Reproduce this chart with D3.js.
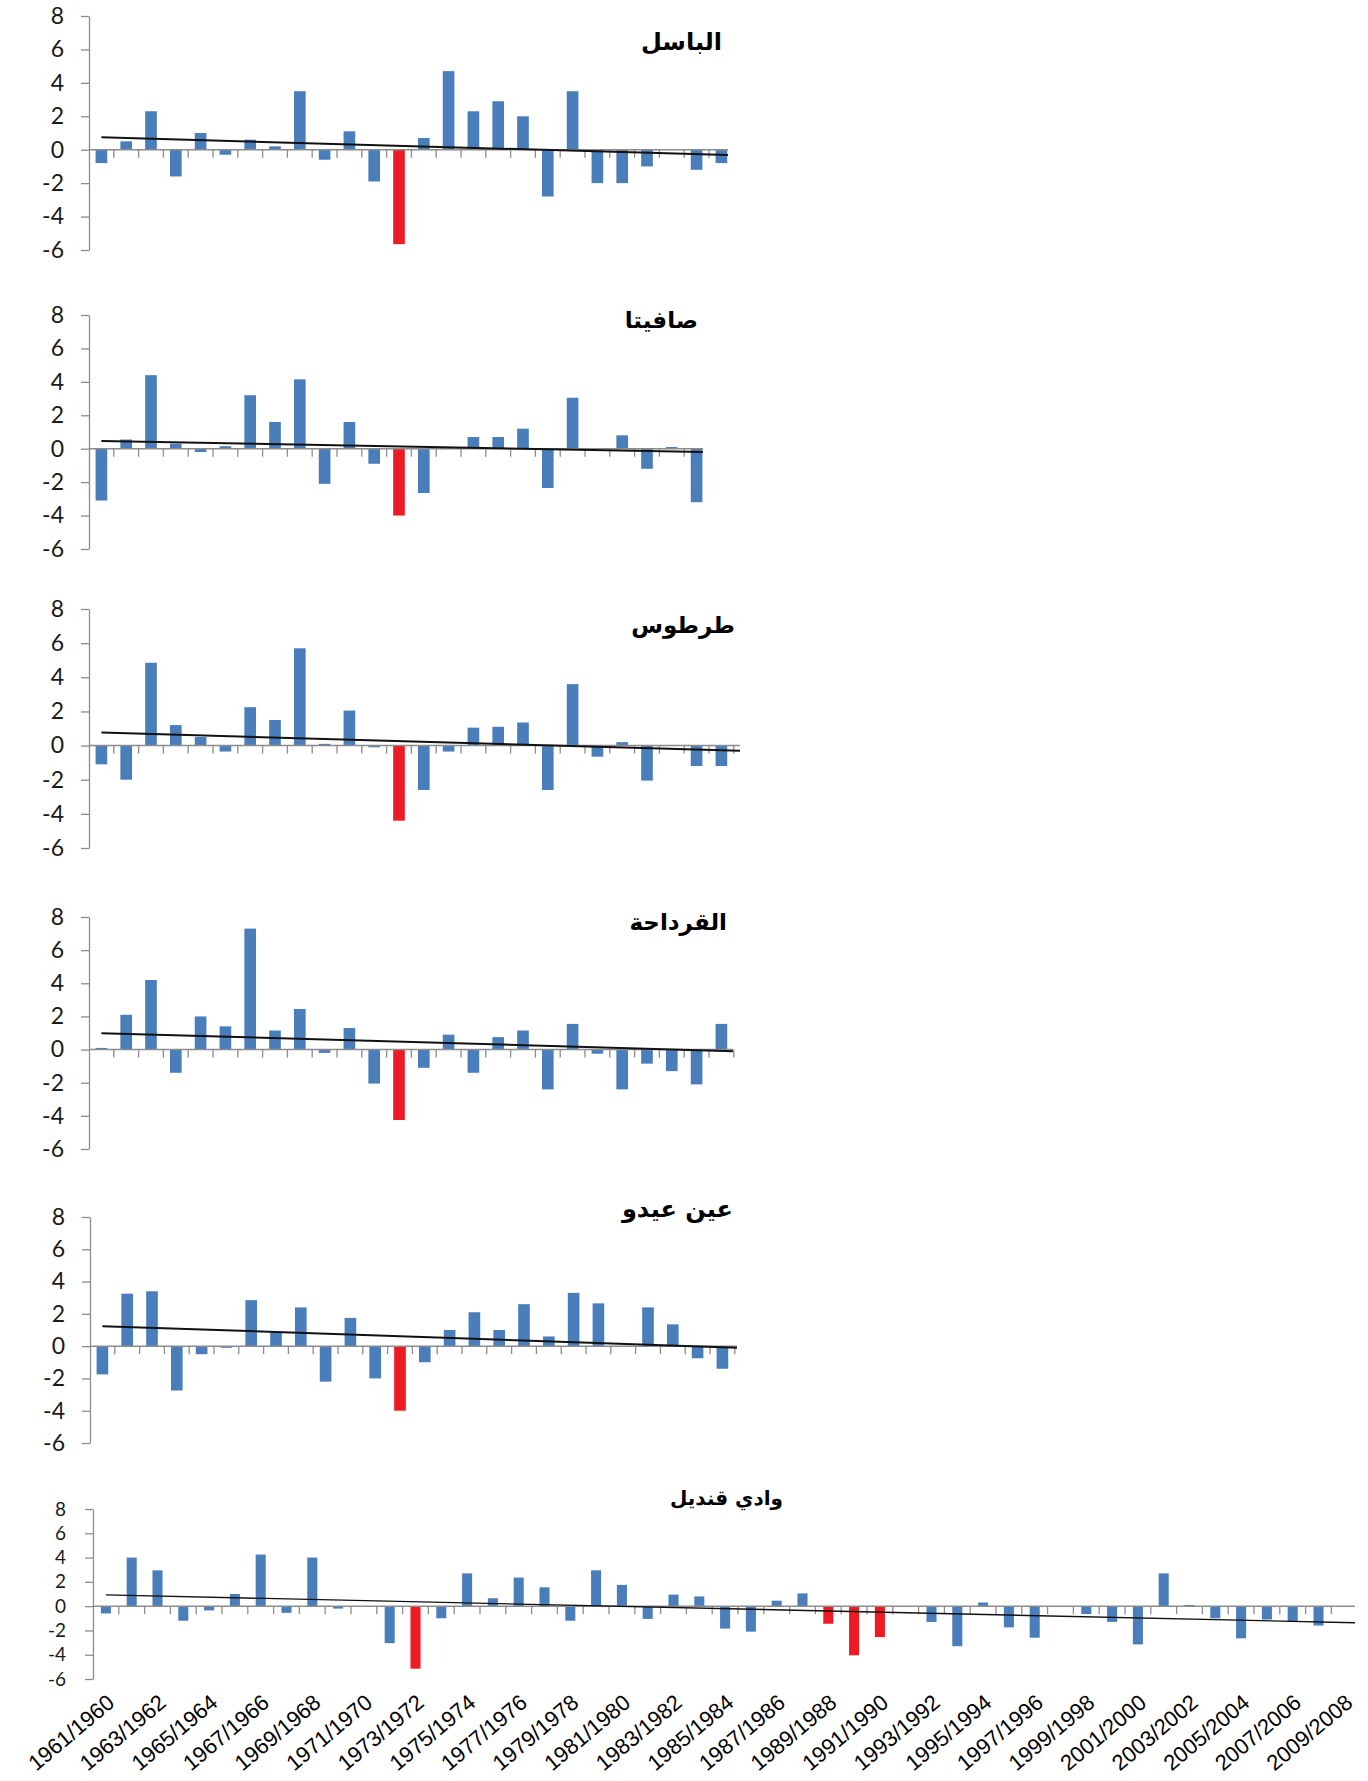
<!DOCTYPE html>
<html>
<head>
<meta charset="utf-8">
<script src="https://cdn.jsdelivr.net/npm/d3@7"></script>
<style>
  body { margin: 0; background: #fff; }
  svg { display: block; }
</style>
</head>
<body>
<svg id="chart" width="1368" height="1781"></svg>
<script>
// Hydrological seasons (category axis)
const seasons = [
  "1961/1960","1962/1961","1963/1962","1964/1963","1965/1964","1966/1965","1967/1966",
  "1968/1967","1969/1968","1970/1969","1971/1970","1972/1971","1973/1972","1974/1973",
  "1975/1974","1976/1975","1977/1976","1978/1977","1979/1978","1980/1979","1981/1980",
  "1982/1981","1983/1982","1984/1983","1985/1984","1986/1985","1987/1986","1988/1987",
  "1989/1988","1990/1989","1991/1990","1992/1991","1993/1992","1994/1993","1995/1994",
  "1996/1995","1997/1996","1998/1997","1999/1998","2000/1999","2001/2000","2002/2001",
  "2003/2002","2004/2003","2005/2004","2006/2005","2007/2006","2008/2007","2009/2008"
];

// Station names
const stationNames = ["الباسل", "صافيتا", "طرطوس", "القرداحة", "عين عيدو", "وادي قنديل"];

// Standardised precipitation anomaly per season, one array per station
const basel = [-0.8, 0.5, 2.3, -1.6, 1.0, -0.3, 0.6, 0.2, 3.5, -0.6, 1.1, -1.9, -5.65,
  0.7, 4.7, 2.3, 2.9, 2.0, -2.8, 3.5, -2.0, -2.0, -1.0, 0, -1.2, -0.8];
const safita = [-3.1, 0.55, 4.4, 0.3, -0.2, 0.15, 3.2, 1.6, 4.15, -2.1, 1.6, -0.9, -4.0,
  -2.65, 0, 0.7, 0.7, 1.2, -2.35, 3.05, 0, 0.8, -1.2, 0.1, -3.2];
const tartous = [-1.1, -2.0, 4.85, 1.2, 0.5, -0.35, 2.25, 1.5, 5.7, 0.1, 2.05, -0.1, -4.4,
  -2.6, -0.35, 1.05, 1.1, 1.35, -2.6, 3.6, -0.65, 0.2, -2.05, 0, -1.2, -1.2];
const qardaha = [0.1, 2.1, 4.2, -1.4, 2.0, 1.4, 7.3, 1.15, 2.45, -0.2, 1.3, -2.05, -4.25,
  -1.1, 0.9, -1.4, 0.75, 1.15, -2.4, 1.55, -0.25, -2.4, -0.85, -1.3, -2.1, 1.55];
const ainIdo = [-1.75, 3.25, 3.4, -2.75, -0.5, -0.1, 2.85, 0.85, 2.4, -2.2, 1.75, -2.0, -4.0,
  -1.0, 1.0, 2.1, 1.0, 2.6, 0.6, 3.3, 2.65, 0, 2.4, 1.35, -0.75, -1.4];
const wadiQandil = [-0.6, 4.0, 2.95, -1.2, -0.35, 1.0, 4.25, -0.55, 4.0, -0.2,
  0, -3.05, -5.15, -1.0, 2.7, 0.65, 2.35, 1.55, -1.2, 2.95,
  1.75, -1.05, 0.95, 0.8, -1.85, -2.1, 0.45, 1.05, -1.45, -4.05,
  -2.55, 0, -1.3, -3.3, 0.3, -1.75, -2.6, 0, -0.65, -1.3,
  -3.15, 2.7, 0.1, -1.0, -2.65, -1.1, -1.3, -1.6, null];

// Linear trend: value at the first season and at the right end of the axis
const trendStart = [0.74, 0.46, 0.76, 0.99, 1.24, 0.93];
const trendEnd = [-0.32, -0.2, -0.31, -0.1, -0.1, -1.37];

// Seasons of severe drought, highlighted in red
const severeTop = ["1973/1972"];
const severeQandil = ["1973/1972", "1989/1988", "1990/1989", "1991/1990"];

// Value axis ticks
const yTicks = [-6, -4, -2, 0, 2, 4, 6, 8];

const seriesList = [basel, safita, tartous, qardaha, ainIdo, wadiQandil];
const severeList = [severeTop, severeTop, severeTop, severeTop, severeTop, severeQandil];

// Panel geometry
const layout = [
  { left: 89, step: 24.8, axisEnd: 728, top: 16,   bottom: 250,  pad: 0.53, tx: 722, ty: 50,   ts: 24, fs: 23 },
  { left: 89, step: 24.8, axisEnd: 703, top: 315,  bottom: 549,  pad: 0.53, tx: 698, ty: 328,  ts: 23, fs: 23 },
  { left: 89, step: 24.8, axisEnd: 740, top: 609,  bottom: 848,  pad: 0.53, tx: 735, ty: 633,  ts: 23, fs: 23 },
  { left: 89, step: 24.8, axisEnd: 733, top: 917,  bottom: 1149, pad: 0.53, tx: 727, ty: 930,  ts: 23, fs: 23 },
  { left: 90, step: 24.8, axisEnd: 737, top: 1217, bottom: 1443, pad: 0.53, tx: 733, ty: 1217, ts: 24, fs: 23 },
  { left: 93, step: 25.8, axisEnd: 1355, top: 1509, bottom: 1679, pad: 0.61, tx: 783, ty: 1505, ts: 20, fs: 19 }
];

const BLUE = "#4a7ebb", RED = "#ed1c24", AXIS = "#8c8c8c";
const svg = d3.select("#chart");

seriesList.forEach((values, p) => {
  const L = layout[p];
  const n = values.length;
  const cats = seasons.slice(0, n);
  const g = svg.append("g");

  const x = d3.scaleBand().domain(cats)
    .range([L.left, L.left + n * L.step])
    .paddingInner(L.pad).paddingOuter(L.pad / 2);
  const y = d3.scaleLinear().domain([-6, 8]).range([L.bottom, L.top]);

  // value axis
  const yAxis = d3.axisLeft(y).tickValues(yTicks).tickSize(8).tickSizeOuter(0)
    .tickPadding(p === 5 ? 19 : 17).tickFormat(d => String(d));
  const ya = g.append("g").attr("transform", `translate(${L.left},0)`).call(yAxis);
  ya.select(".domain").attr("stroke", AXIS).attr("stroke-width", 1.3);
  ya.selectAll(".tick line").attr("stroke", AXIS).attr("stroke-width", 1.3);
  ya.selectAll(".tick text").attr("fill", "#1a1a1a")
    .style("font-family", "Lato, 'Open Sans', sans-serif").style("font-size", L.fs + "px");

  // bars
  const data = cats.map((c, i) => ({ c, v: values[i] })).filter(d => d.v !== null);
  g.append("g").selectAll("rect").data(data).join("rect")
    .attr("x", d => x(d.c))
    .attr("width", x.bandwidth())
    .attr("y", d => y(Math.max(0, d.v)))
    .attr("height", d => Math.abs(y(d.v) - y(0)))
    .attr("fill", d => severeList[p].includes(d.c) ? RED : BLUE);

  // category axis on the zero line, ticks between categories
  const bounds = d3.range(1, n + 1).map(k => L.left + k * L.step).filter(v => v <= L.axisEnd + 1);
  g.append("line").attr("x1", L.left).attr("x2", L.axisEnd)
    .attr("y1", y(0)).attr("y2", y(0)).attr("stroke", AXIS).attr("stroke-width", 1.5);
  g.append("g").selectAll("line").data(bounds).join("line")
    .attr("x1", d => d).attr("x2", d => d)
    .attr("y1", y(0)).attr("y2", y(0) + 8)
    .attr("stroke", AXIS).attr("stroke-width", 1.3);

  // linear trend line
  g.append("line")
    .attr("x1", x(cats[0]) + x.bandwidth() / 2).attr("y1", y(trendStart[p]))
    .attr("x2", L.axisEnd).attr("y2", y(trendEnd[p]))
    .attr("stroke", "#111").attr("stroke-width", p === 5 ? 1.4 : 2);

  // station title
  g.append("text").attr("x", L.tx).attr("y", L.ty)
    .attr("text-anchor", "end")
    .style("font-family", "'DejaVu Sans', sans-serif").style("font-weight", "bold")
    .style("font-size", L.ts + "px").attr("fill", "#000")
    .text(stationNames[p]);

  // season labels under the last panel only
  if (p === 5) {
    g.append("g").selectAll("text").data(cats.filter((c, i) => i % 2 === 0)).join("text")
      .attr("transform", c => `translate(${x(c) + x.bandwidth() / 2 + 5},${L.bottom + 20}) rotate(-40)`)
      .attr("text-anchor", "end")
      .attr("dy", "0.35em")
      .style("font-family", "'Liberation Sans', Arial, sans-serif")
      .style("font-size", "22px").attr("fill", "#000")
      .text(c => c);
  }
});
</script>
</body>
</html>
